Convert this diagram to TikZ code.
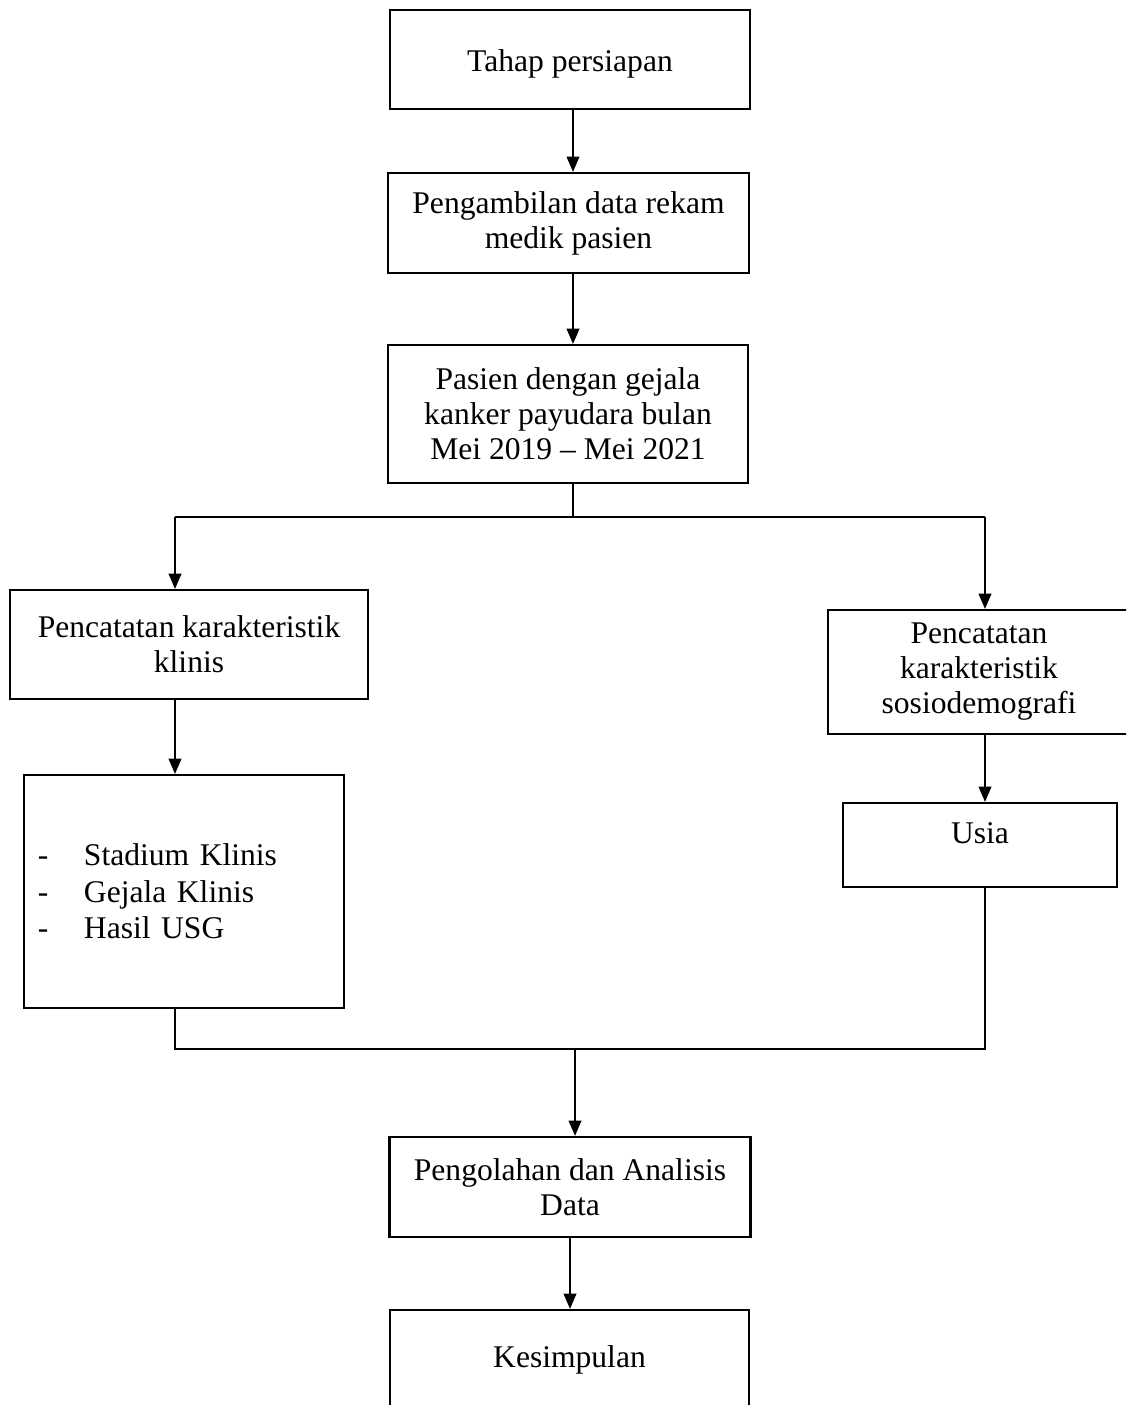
\documentclass[tikz,border=0pt]{standalone}
\usepackage{fontspec}
\setmainfont{Liberation Serif}
\usetikzlibrary{arrows.meta}

\begin{document}
\begin{tikzpicture}[x=.38pt,y=-.38pt,
    kotak/.style={draw,line width=.9pt,align=center,inner sep=0pt,
      font=\fontsize{12}{13.3}\selectfont},
    panah/.style={-{Triangle[length=5.8pt,width=4.9pt]},line width=.4pt},
    garis/.style={line width=.4pt}]
    \useasboundingbox (0,0) rectangle (1126,1405);
    \clip (0,0) rectangle (1126,1405);

    %% kolom tengah
    \node (persiapan) at (570,59.5) [kotak,minimum width=136.8pt,minimum height=37.6pt,text height=11.5pt] {Tahap persiapan};
    \node (rekam) at (568.5,223) [kotak,minimum width=137.2pt,minimum height=38pt] {Pengambilan data rekam\\medik pasien};
    \node (pasien) at (568,414) [kotak,minimum width=136.8pt,minimum height=52.4pt] {Pasien dengan gejala\\kanker payudara bulan\\Mei 2019 -- Mei 2021};

    %% cabang
    \coordinate (cabang) at (573,517);
    \coordinate (kiri) at (175,517);
    \coordinate (kanan) at (985,517);

    %% kiri
    \node (klinis) at (189,644.5) [kotak,minimum width=136pt,minimum height=41.4pt] {Pencatatan karakteristik\\klinis};
    \node (isiklinis) at (184,891.5) [kotak,align=left,inner xsep=5.3pt,text width=111pt,minimum height=88.5pt,
      font=\fontsize{12}{13.9}\selectfont]
      {\makebox[17.5pt][l]{-}Stadium Klinis\\\makebox[17.5pt][l]{-}Gejala Klinis\\\makebox[17.5pt][l]{-}Hasil USG};

    %% kanan
    \node (sosio) at (979,672) [kotak,minimum width=114.8pt,minimum height=47.1pt] {Pencatatan\\karakteristik\\sosiodemografi};
    \node (usia) at (980,845) [kotak,minimum width=104.1pt,minimum height=31.9pt,text depth=9.2pt] {Usia};

    %% gabung
    \coordinate (gabungkiri) at (175,1049);
    \coordinate (gabung) at (575,1049);
    \coordinate (gabungkanan) at (985,1049);

    %% bawah
    \node (olah) at (570,1187) [kotak,minimum width=137.2pt,minimum height=38pt] {Pengolahan dan Analisis\\Data};
    \node (simpulan) at (569.5,1360) [kotak,minimum width=136.4pt,minimum height=38pt] {Kesimpulan};

    %% panah
    \draw[panah] (persiapan.south -| cabang) -- (rekam.north -| cabang);
    \draw[panah] (rekam.south -| cabang) -- (pasien.north -| cabang);
    \draw[garis] (pasien.south -| cabang) -- (cabang);
    \draw[garis] (kiri) -- (kanan);
    \draw[panah] (kiri) -- (kiri |- klinis.north);
    \draw[panah] (kanan) -- (kanan |- sosio.north);
    \draw[panah] (klinis.south -| kiri) -- (isiklinis.north -| kiri);
    \draw[panah] (sosio.south -| kanan) -- (usia.north -| kanan);
    \draw[garis] (isiklinis.south -| kiri) -- (gabungkiri) -- (gabungkanan) -- (usia.south -| kanan);
    \draw[panah] (gabung) -- (olah.north -| gabung);
    \draw[panah] (olah.south) -- (olah.south |- simpulan.north);
\end{tikzpicture}
\end{document}
